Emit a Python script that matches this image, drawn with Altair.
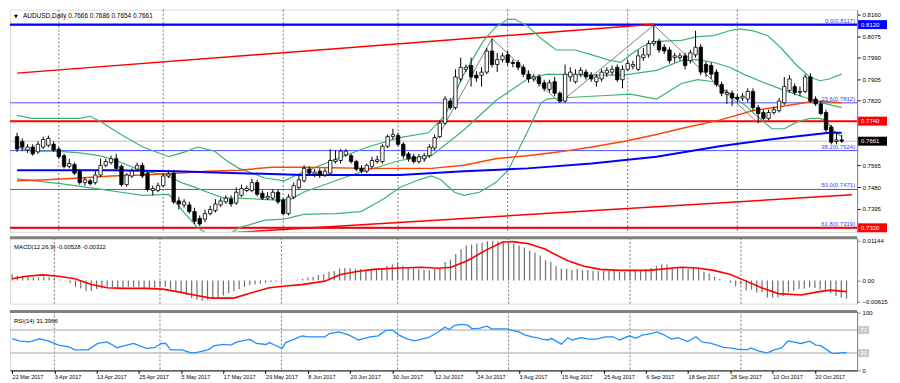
import altair as alt
import pandas as pd

# ---------------- data ----------------
opens = [0.7679,0.7660,0.7626,0.7638,0.7619,0.7638,0.7645,0.7649,0.7630,0.7604,
 0.7562,0.7569,0.7543,0.7498,0.7505,0.7498,0.7528,0.7566,0.7577,0.7592,
 0.7562,0.7490,0.7524,0.7551,0.7566,0.7535,0.7467,0.7467,0.7486,0.7524,
 0.7535,0.7426,0.7410,0.7410,0.7384,0.7357,0.7354,0.7376,0.7388,0.7410,
 0.7422,0.7433,0.7418,0.7448,0.7467,0.7467,0.7498,0.7456,0.7437,0.7437,
 0.7460,0.7429,0.7376,0.7441,0.7479,0.7505,0.7551,0.7532,0.7543,0.7528,
 0.7535,0.7581,0.7585,0.7607,0.7604,0.7581,0.7554,0.7543,0.7562,0.7581,
 0.7581,0.7641,0.7679,0.7683,0.7649,0.7611,0.7600,0.7581,0.7592,0.7604,
 0.7634,0.7679,0.7732,0.7819,0.7793,0.7906,0.7944,0.7959,0.7921,0.7921,
 0.7933,0.8016,0.7963,0.7982,0.8001,0.7971,0.7971,0.7952,0.7925,0.7906,
 0.7914,0.7891,0.7865,0.7895,0.7850,0.7819,0.7914,0.7895,0.7925,0.7933,
 0.7921,0.7895,0.7906,0.7929,0.7933,0.7952,0.7903,0.7944,0.7956,0.7944,
 0.7990,0.8001,0.8046,0.8054,0.8031,0.8020,0.7990,0.7990,0.7997,0.7978,
 0.8001,0.8031,0.7963,0.7959,0.7933,0.7884,0.7846,0.7850,0.7834,0.7831,
 0.7827,0.7857,0.7793,0.7774,0.7751,0.7774,0.7781,0.7812,0.7861,0.7876,
 0.7853,0.7857,0.7914,0.7827,0.7808,0.7774,0.7717,0.7660,0.7666]
highs = [0.7694,0.7672,0.7649,0.7649,0.7660,0.7679,0.7683,0.7660,0.7638,0.7611,
 0.7592,0.7577,0.7551,0.7520,0.7513,0.7543,0.7592,0.7592,0.7604,0.7611,
 0.7569,0.7535,0.7554,0.7577,0.7577,0.7543,0.7486,0.7498,0.7535,0.7547,
 0.7547,0.7441,0.7433,0.7422,0.7399,0.7369,0.7392,0.7407,0.7433,0.7437,
 0.7448,0.7448,0.7479,0.7490,0.7486,0.7513,0.7509,0.7467,0.7460,0.7471,
 0.7471,0.7437,0.7452,0.7498,0.7528,0.7566,0.7562,0.7551,0.7554,0.7554,
 0.7630,0.7626,0.7630,0.7630,0.7611,0.7588,0.7566,0.7573,0.7600,0.7604,
 0.7649,0.7687,0.7710,0.7694,0.7657,0.7619,0.7611,0.7611,0.7615,0.7649,
 0.7687,0.7744,0.7838,0.7831,0.7944,0.7990,0.7963,0.7990,0.7937,0.7952,
 0.8028,0.8065,0.8009,0.8009,0.8016,0.7982,0.7982,0.7963,0.7940,0.7925,
 0.7925,0.7903,0.7903,0.7914,0.7857,0.7963,0.7952,0.7944,0.7952,0.7944,
 0.7933,0.7925,0.7944,0.7952,0.7959,0.7963,0.7959,0.7982,0.7978,0.8020,
 0.8028,0.8058,0.8118,0.8065,0.8043,0.8031,0.8009,0.8009,0.8009,0.8020,
 0.8096,0.8043,0.7975,0.7971,0.7944,0.7895,0.7865,0.7861,0.7846,0.7850,
 0.7869,0.7869,0.7804,0.7785,0.7785,0.7797,0.7831,0.7914,0.7921,0.7888,
 0.7876,0.7925,0.7929,0.7838,0.7819,0.7785,0.7725,0.7694,0.7686]
lows = [0.7619,0.7622,0.7615,0.7604,0.7611,0.7630,0.7638,0.7619,0.7592,0.7554,
 0.7554,0.7528,0.7490,0.7486,0.7486,0.7490,0.7520,0.7558,0.7569,0.7547,
 0.7482,0.7482,0.7516,0.7543,0.7516,0.7463,0.7448,0.7460,0.7479,0.7516,
 0.7414,0.7392,0.7399,0.7376,0.7335,0.7327,0.7342,0.7369,0.7380,0.7403,
 0.7414,0.7403,0.7410,0.7441,0.7460,0.7460,0.7444,0.7429,0.7429,0.7429,
 0.7414,0.7369,0.7369,0.7433,0.7471,0.7498,0.7524,0.7520,0.7516,0.7520,
 0.7528,0.7573,0.7573,0.7600,0.7573,0.7543,0.7535,0.7535,0.7554,0.7573,
 0.7573,0.7634,0.7668,0.7641,0.7592,0.7581,0.7573,0.7573,0.7581,0.7596,
 0.7626,0.7672,0.7725,0.7785,0.7785,0.7895,0.7933,0.7876,0.7895,0.7876,
 0.7925,0.7952,0.7933,0.7971,0.7959,0.7952,0.7940,0.7914,0.7891,0.7895,
 0.7876,0.7857,0.7853,0.7838,0.7812,0.7812,0.7895,0.7888,0.7914,0.7903,
 0.7895,0.7876,0.7895,0.7914,0.7921,0.7895,0.7869,0.7937,0.7944,0.7937,
 0.7978,0.7990,0.8035,0.8009,0.8005,0.7967,0.7971,0.7978,0.7944,0.7967,
 0.7990,0.7921,0.7914,0.7906,0.7876,0.7838,0.7808,0.7800,0.7812,0.7819,
 0.7815,0.7781,0.7732,0.7744,0.7744,0.7766,0.7774,0.7804,0.7853,0.7842,
 0.7838,0.7850,0.7812,0.7800,0.7763,0.7698,0.7649,0.7649,0.7654]
closes = [0.7630,0.7638,0.7638,0.7611,0.7649,0.7668,0.7672,0.7626,0.7600,0.7562,
 0.7573,0.7535,0.7498,0.7509,0.7494,0.7528,0.7566,0.7581,0.7592,0.7554,
 0.7490,0.7528,0.7543,0.7566,0.7524,0.7471,0.7475,0.7486,0.7524,0.7532,
 0.7422,0.7414,0.7422,0.7384,0.7346,0.7335,0.7376,0.7392,0.7414,0.7426,
 0.7437,0.7414,0.7460,0.7475,0.7475,0.7498,0.7452,0.7437,0.7444,0.7460,
 0.7422,0.7376,0.7441,0.7486,0.7509,0.7554,0.7535,0.7539,0.7528,0.7543,
 0.7585,0.7588,0.7622,0.7622,0.7581,0.7551,0.7543,0.7566,0.7585,0.7588,
 0.7641,0.7679,0.7687,0.7649,0.7604,0.7592,0.7581,0.7600,0.7604,0.7638,
 0.7675,0.7732,0.7827,0.7793,0.7914,0.7952,0.7952,0.7914,0.7910,0.7933,
 0.8016,0.7963,0.7982,0.7997,0.7971,0.7967,0.7952,0.7925,0.7906,0.7914,
 0.7888,0.7869,0.7891,0.7850,0.7819,0.7925,0.7933,0.7925,0.7940,0.7914,
 0.7906,0.7914,0.7933,0.7940,0.7944,0.7903,0.7944,0.7967,0.7963,0.7997,
 0.8001,0.8046,0.8054,0.8020,0.8016,0.7978,0.7997,0.7997,0.7959,0.8009,
 0.8031,0.7933,0.7933,0.7925,0.7884,0.7850,0.7853,0.7831,0.7827,0.7838,
 0.7857,0.7793,0.7770,0.7751,0.7774,0.7785,0.7819,0.7876,0.7906,0.7853,
 0.7857,0.7914,0.7819,0.7808,0.7770,0.7706,0.7657,0.7666,0.7661]

date_labels = ['22 Mar 2017','3 Apr 2017','13 Apr 2017','25 Apr 2017','5 May 2017',
 '17 May 2017','29 May 2017','8 Jun 2017','20 Jun 2017','30 Jun 2017','12 Jul 2017',
 '24 Jul 2017','3 Aug 2017','15 Aug 2017','25 Aug 2017','6 Sep 2017','18 Sep 2017',
 '28 Sep 2017','10 Oct 2017','20 Oct 2017']
label_step = 8
month_grid = [8, 28, 51, 73, 94, 117, 138]

bb_up_i = [0,2.8,8.3,12,14,16.2,19.9,24.1,29.1,32.2,34.6,37.8,40.1,42.5,47.5,51.2,54.3,60.4,67.2,73.3,
 78.8,82,85.6,89.3,91.7,94.1,95.4,97.8,100.4,103.3,107,110.1,113.8,115.7,117.5,119.9,122.5,127.3,130.4,
 133.5,136.5,138.3,140.9,143.8,146.4,149.4,151.9,153.8,155.6,158]
bb_up_v = [0.7763,0.7751,0.7751,0.7751,0.7759,0.7736,0.7687,0.7638,0.7600,0.7619,0.7638,0.7622,0.7585,
 0.7554,0.7516,0.7505,0.7535,0.7585,0.7638,0.7675,0.7694,0.7763,0.7925,0.8054,0.8111,0.8141,0.8141,
 0.8115,0.8065,0.8020,0.8020,0.8001,0.7978,0.7971,0.8001,0.8035,0.8054,0.8058,0.8073,0.8077,0.8096,
 0.8103,0.8096,0.8077,0.8028,0.7959,0.7914,0.7899,0.7906,0.7925]
bb_mid_i = [0,2.8,7.6,12,15.7,18,19.9,24.1,28.5,31.5,34.1,36.5,39.6,42.5,46.2,49.9,52.5,54.9,64.1,73.3,
 79.4,85.6,91.7,97.8,101.5,110.1,116.2,122.5,127.3,130.4,133.5,136.5,139.6,142.7,147,151.2,154.3,158]
bb_mid_v = [0.7638,0.7622,0.7622,0.7615,0.7604,0.7592,0.7577,0.7543,0.7528,0.7498,0.7479,0.7460,0.7437,
 0.7437,0.7433,0.7429,0.7433,0.7460,0.7528,0.7585,0.7604,0.7705,0.7820,0.7906,0.7925,0.7921,0.7921,
 0.7940,0.7978,0.7982,0.7971,0.7952,0.7921,0.7895,0.7861,0.7831,0.7812,0.7793]
bb_low_i = [0,8.3,16.2,19.9,24.1,29.1,32.2,34.6,37.4,40.1,42.5,47.5,51.2,54.9,61,65.9,70.2,73.3,77,79.4,
 81.2,83.8,85.6,88.6,91.7,94.1,97.8,100.4,101.5,104,110.1,113.8,117.5,122.5,124.3,127.3,130.4,133.5,
 135.9,139.6,142.7,144.6,147,149.4,151.9,153.8,154.9,156.7,158]
bb_low_v = [0.7513,0.7494,0.7471,0.7460,0.7448,0.7452,0.7376,0.7320,0.7286,0.7289,0.7320,0.7350,0.7354,
 0.7373,0.7376,0.7384,0.7433,0.7479,0.7509,0.7524,0.7509,0.7460,0.7448,0.7460,0.7498,0.7547,0.7698,
 0.7812,0.7827,0.7831,0.7838,0.7842,0.7846,0.7827,0.7850,0.7888,0.7903,0.7895,0.7857,0.7800,0.7744,
 0.7710,0.7710,0.7736,0.7751,0.7751,0.7744,0.7698,0.7679]
ma_red_i = [0,5.7,12,18,24.1,30.4,36.5,42.5,48.8,54.9,67.2,79.4,85.6,91.7,97.8,104,110.1,116.2,122.5,
 128.5,134.6,140.9,147,153,158]
ma_red_v = [0.7505,0.7509,0.7516,0.7524,0.7528,0.7535,0.7543,0.7547,0.7558,0.7558,0.7554,0.7554,0.7566,
 0.7592,0.7604,0.7619,0.7638,0.7660,0.7687,0.7717,0.7744,0.7781,0.7800,0.7819,0.7812]
ma_blue_i = [0,18,30.4,42.5,54.9,73.3,85.6,97.8,110.1,122.5,134.6,147,155.6,158]
ma_blue_v = [0.7547,0.7547,0.7543,0.7535,0.7528,0.7528,0.7543,0.7554,0.7573,0.7600,0.7641,0.7675,
 0.7694,0.7694]
zigzag_i = [78, 91, 104, 122, 142]
zigzag_v = [0.7581, 0.8065, 0.7812, 0.8118, 0.7732]
trend_up_i = [0, 122]
trend_up_v = [0.7929, 0.8121]
trend_low_i = [30, 160]
trend_low_v = [0.7287, 0.7450]

level_prices = [0.8120, 0.7740, 0.7320]
level_colors = ['#0000ff', '#ff0000', '#ff0000']
fib_prices = [0.8117, 0.7812, 0.7624, 0.7471, 0.7319]
fib_texts = ['0.0(0.8117)', '23.6(0.7812)', '38.2(0.7624)', '50.0(0.7471)', '61.8(0.7319)']
bid_price = 0.7661
price_ticks = [0.8160, 0.8075, 0.7990, 0.7905, 0.7820, 0.7565, 0.7480, 0.7395]
box_prices = [0.8120, 0.7740, 0.7661, 0.7320]
box_texts = ['0.8120', '0.7740', '0.7661', '0.7320']
box_colors = ['#0000ff', '#ff0000', '#000000', '#ff0000']

macd_main = [0.00186,0.0014,0.0012,0.0012,0.00093,0.00093,0.0011,0.00093,0.00065,0.00028,
 0.0,-0.00065,-0.00186,-0.00233,-0.00307,-0.00307,-0.00251,-0.00233,-0.00186,-0.00186,
 -0.00233,-0.00214,-0.00186,-0.00186,-0.00186,-0.00233,-0.00251,-0.00214,-0.00186,-0.00186,
 -0.00251,-0.00326,-0.00372,-0.00419,-0.00512,-0.00558,-0.00586,-0.00558,-0.00512,-0.00493,
 -0.00437,-0.00372,-0.00307,-0.00251,-0.00186,-0.0014,-0.00121,-0.00093,-0.00065,-0.00047,
 -0.00028,-0.00028,-0.0001,-0.0001,0.0002,0.00047,0.00084,0.0011,0.0016,0.0018,
 0.0025,0.0027,0.0034,0.0036,0.0036,0.0033,0.0033,0.0030,0.0033,0.0030,
 0.0036,0.0042,0.0046,0.0051,0.0042,0.0039,0.0034,0.0033,0.0030,0.0030,
 0.0034,0.0036,0.0053,0.0060,0.0076,0.0090,0.0101,0.0104,0.0107,0.0109,
 0.0113,0.01144,0.0113,0.0111,0.0111,0.0107,0.0101,0.0095,0.0086,0.0081,
 0.0072,0.0058,0.0053,0.0042,0.0034,0.0034,0.0030,0.0033,0.0030,0.0030,
 0.0027,0.0027,0.0028,0.0027,0.0027,0.0025,0.0025,0.0027,0.0027,0.0027,
 0.0033,0.0036,0.0042,0.0046,0.0046,0.0039,0.0036,0.0036,0.0034,0.0036,
 0.0033,0.0025,0.0020,0.0011,0.0004,-0.0001,-0.0007,-0.0017,-0.0012,-0.0029,
 -0.0026,-0.0035,-0.0035,-0.0049,-0.0049,-0.0049,-0.0045,-0.0035,-0.0029,-0.0025,
 -0.0023,-0.0020,-0.0022,-0.0026,-0.0030,-0.0036,-0.0045,-0.0050,-0.00528]
macd_sig_i = [0,2.7,5.8,8.8,11.9,15,18,21,25.4,28.5,31.5,35.2,37.7,42,45,48.7,51.8,54.9,59.2,62.2,
 65.3,68.4,73.3,77.6,80.7,83.1,86.2,89.9,92.9,94.8,97.8,100.9,102.2,105.2,108.3,111.4,115,120.6,
 126.7,129.8,132.8,135.9,139,142,145.1,149.4,152.5,155,158]
macd_sig_v = [0.00047,0.0012,0.0016,0.0012,0.0005,-0.0012,-0.0021,-0.0023,-0.0023,-0.0025,-0.0033,
 -0.0044,-0.0051,-0.0051,-0.0037,-0.0021,-0.0016,-0.0012,-0.0002,0.0017,0.0026,0.0032,0.0036,
 0.0038,0.0035,0.0038,0.0057,0.0089,0.0111,0.0112,0.0106,0.0091,0.0080,0.0057,0.0041,0.0032,
 0.0029,0.0029,0.0038,0.0036,0.0029,0.0018,-0.0002,-0.0022,-0.0038,-0.0042,-0.0033,-0.0028,
 -0.00322]
macd_ticks = [0.01144, 0.0, -0.00615]

rsi_i = [0,1.5,3.3,5.2,7,8.8,10.7,11.9,14.4,16.2,18,19.9,21.7,23,25.4,27,28.2,29.1,30,32.2,34,35.2,
 37.1,38.3,40.1,41.4,42.6,45,46.3,48.1,48.7,50,51.1,51.8,53,54.9,56.1,59.2,60.1,61.9,63.8,65.6,
 67.8,69.3,70.8,72.1,73.3,74.5,76.1,77.6,78.8,80.7,81.9,82.8,83.7,85,86.2,87.1,88.6,89.9,90.8,
 93.6,94.8,96,97.2,98.5,99.7,100.3,101.5,102.1,104,105.2,106.1,107.7,109.2,110.7,112.3,113.8,
 115,116.9,118.1,119.3,120.9,122.1,123.3,124.9,126.1,127.9,129.5,130.7,132.2,134.7,135.9,137.8,
 139.3,139.9,141.4,142.9,144.5,145.7,146.9,149.4,151,152.2,153.1,154.9,155.5,158]
rsi_v = [55,50.6,49.4,55,50.6,43.9,41,35.6,35.6,46.7,49.4,39.4,43.9,46.7,38.3,39.4,46.7,46.7,35.6,
 35.6,30,31.7,35.6,42.8,45,43.9,49.4,53.9,46.7,45,48.3,42.8,38.3,48.3,52.5,59.7,58.3,58.3,63.9,
 66.7,61.1,52.8,58.3,60,69.4,69.4,61.1,55.6,51.1,54.4,56.7,66.7,75,71.1,77.8,80,78.9,72.2,73.3,
 76.7,72.2,72.2,68.9,66.7,61.1,58.3,56,54.4,52.8,55.6,45.6,56.7,52.8,56.7,54.4,54.4,58.3,58.3,
 52.8,60,55.6,61.1,63.9,66.7,62.2,54.4,56.7,50,58.3,48.9,47.2,40,38.9,36.1,36.1,38.9,33.3,30.6,
 36.1,38.9,51.1,46.7,50.6,43.9,42.8,31.7,29,31.4]
rsi_levels = [70, 30]

for a, b in [(bb_up_i, bb_up_v), (bb_mid_i, bb_mid_v), (bb_low_i, bb_low_v), (ma_red_i, ma_red_v),
             (ma_blue_i, ma_blue_v), (macd_sig_i, macd_sig_v), (rsi_i, rsi_v)]:
    assert len(a) == len(b), (len(a), len(b))
N = len(closes)
assert len(opens) == len(highs) == len(lows) == N == len(macd_main)

# ---------------- layout ----------------
W = 850
H1, H2, H3 = 223, 66, 59
FONT = 'Liberation Sans'
xs = alt.Scale(domain=[-0.4, 160.0], nice=False, zero=False)
ys = alt.Scale(domain=[0.7304, 0.8179], nice=False, zero=False)
ms = alt.Scale(domain=[-0.0067, 0.0123], nice=False, zero=False)
rs = alt.Scale(domain=[0, 102], nice=False, zero=False)

main_axis = alt.Axis(orient='right', values=price_ticks, format='.4f', labelFontSize=6, labelFont=FONT,
                     tickSize=3, title=None, grid=False, domainColor='#808080', tickColor='#000000',
                     labelPadding=2, labelColor='#000000')
X0 = alt.X('i:Q', scale=xs, axis=None)

def Ym(f):
    return alt.Y(f, scale=ys, axis=main_axis)

cd = pd.DataFrame(dict(i=list(range(N)), o=opens, h=highs, l=lows, c=closes))
cd['bull'] = cd['c'] >= cd['o']

def line_df(a, b):
    return pd.DataFrame(dict(i=a, p=b))

grid_df = pd.DataFrame(dict(i=month_grid))
grid = alt.Chart(grid_df).mark_rule(color='#555555', strokeDash=[2, 2], strokeWidth=0.8).encode(x=X0)

levels_df = pd.DataFrame(dict(p=level_prices, col=level_colors))
fib_df = pd.DataFrame(dict(p=fib_prices, t=fib_texts))
bid_df = pd.DataFrame(dict(p=[bid_price]))

bid_line = alt.Chart(bid_df).mark_rule(color='#c0c0c0', strokeWidth=1).encode(y=Ym('p:Q'))
fib_lines = alt.Chart(fib_df).mark_rule(color='#3c3cff', strokeWidth=0.9).encode(y=Ym('p:Q'))
level_lines = alt.Chart(levels_df).mark_rule(strokeWidth=2).encode(
    y=Ym('p:Q'), color=alt.Color('col:N', scale=None))
fib_text = alt.Chart(fib_df).mark_text(align='right', baseline='bottom', dy=-1, fontSize=6, font=FONT,
                                        color='#3c3cff').encode(x=alt.value(W - 2), y=Ym('p:Q'), text='t:N')

def series(a, b, color, width, clip=False):
    return alt.Chart(line_df(a, b)).mark_line(color=color, strokeWidth=width, clip=clip).encode(
        x=X0, y=Ym('p:Q'))

bb_color = '#3cb371'
bb_u = series(bb_up_i, bb_up_v, bb_color, 1.2, True)
bb_m = series(bb_mid_i, bb_mid_v, bb_color, 1.2, True)
bb_l = series(bb_low_i, bb_low_v, bb_color, 1.2, True)
ma_r = series(ma_red_i, ma_red_v, '#ff4500', 1.5)
ma_b = series(ma_blue_i, ma_blue_v, '#0000ff', 2)
zz = series(zigzag_i, zigzag_v, '#808080', 1)
tr_u = series(trend_up_i, trend_up_v, '#ff0000', 1.5, True)
tr_l = series(trend_low_i, trend_low_v, '#ff0000', 1.5, True)

wicks = alt.Chart(cd).mark_rule(color='#000000', strokeWidth=1).encode(x=X0, y=Ym('l:Q'), y2='h:Q')
bodies = alt.Chart(cd).mark_bar(size=3.4, stroke='#000000', strokeWidth=0.8, orient='vertical').encode(
    x=X0, y=Ym('o:Q'), y2='c:Q',
    fill=alt.condition('datum.bull', alt.value('#ffffff'), alt.value('#000000')))

box_df = pd.DataFrame(dict(p=box_prices, t=box_texts, col=box_colors))
boxes = alt.Chart(box_df).mark_rule(strokeWidth=9, strokeCap='butt').encode(
    x=alt.value(W + 1), x2=alt.value(W + 30), y=Ym('p:Q'), color=alt.Color('col:N', scale=None))
box_text = alt.Chart(box_df).mark_text(align='left', baseline='middle', fontSize=6, font=FONT,
                                       color='#ffffff').encode(x=alt.value(W + 4), y=Ym('p:Q'), text='t:N')

hdr_df = pd.DataFrame(dict(t=['AUDUSD,Daily  0.7666 0.7686 0.7654 0.7661']))
hdr_tri = alt.Chart(pd.DataFrame(dict(t=['\u25bc']))).mark_text(
    align='left', baseline='middle', fontSize=5, font='DejaVu Sans').encode(
    x=alt.value(4), y=alt.value(6), text='t:N')
hdr = alt.Chart(hdr_df).mark_text(align='left', baseline='middle', fontSize=6.5, font=FONT).encode(
    x=alt.value(13), y=alt.value(6), text='t:N')

main = alt.layer(grid, bid_line, fib_lines, level_lines, tr_u, tr_l, bb_u, bb_m, bb_l, ma_r, ma_b, zz,
                 wicks, bodies, fib_text, boxes, box_text, hdr_tri, hdr).properties(width=W, height=H1)

# ---------------- MACD ----------------
macd_axis = alt.Axis(orient='right', values=macd_ticks, labelFontSize=6, labelFont=FONT, tickSize=3,
                     title=None, grid=False, domainColor='#808080', labelPadding=2,
                     labelExpr="datum.value == 0 ? '0.00' : format(datum.value, '.5f')")
md = pd.DataFrame(dict(i=list(range(N)), v=macd_main, z=[0.0] * N))
sep_df = pd.DataFrame(dict(k=[0]))
sep = alt.Chart(sep_df).mark_rule(color='#808080', strokeWidth=3).encode(
    x=alt.value(0), x2=alt.value(W), y=alt.value(0))
hist = alt.Chart(md).mark_rule(color='#707070', strokeWidth=1.2).encode(
    x=X0, y=alt.Y('z:Q', scale=ms, axis=macd_axis), y2='v:Q')
sig = alt.Chart(pd.DataFrame(dict(i=macd_sig_i, v=macd_sig_v))).mark_line(
    color='#ff0000', strokeWidth=1.6).encode(x=X0, y=alt.Y('v:Q', scale=ms, axis=macd_axis))
macd_lbl = alt.Chart(pd.DataFrame(dict(t=['MACD(12,26,9) -0.00528 -0.00322']))).mark_text(
    align='left', baseline='middle', fontSize=6, font=FONT).encode(x=alt.value(4), y=alt.value(9), text='t:N')
macd = alt.layer(grid, hist, sig, macd_lbl, sep).properties(width=W, height=H2)

# ---------------- RSI ----------------
label_js = '[' + ','.join("'" + s + "'" for s in date_labels) + ']'
x_axis = alt.Axis(values=[k * label_step for k in range(len(date_labels))],
                  labelExpr=label_js + '[round(datum.value / %d)]' % label_step,
                  labelAlign='left', labelFontSize=5.5, labelFont=FONT, tickSize=3, labelPadding=1,
                  title=None, grid=False, domainColor='#000000', tickColor='#000000',
                  labelOverlap=False, labelFlush=False, labelBound=False)
Xr = alt.X('i:Q', scale=xs, axis=x_axis)
rsi_axis = alt.Axis(orient='right', values=[100, 0], labelFontSize=6, labelFont=FONT, tickSize=3,
                    title=None, grid=False, domainColor='#808080', labelPadding=2)
lv_df = pd.DataFrame(dict(r=rsi_levels, t=[str(v) for v in rsi_levels]))
lv = alt.Chart(lv_df).mark_rule(color='#c0c0c0', strokeWidth=1.5).encode(
    y=alt.Y('r:Q', scale=rs, axis=rsi_axis))
lv_box = alt.Chart(lv_df).mark_rule(color='#c8c8c8', strokeWidth=8, strokeCap='butt').encode(
    x=alt.value(W + 1), x2=alt.value(W + 12), y=alt.Y('r:Q', scale=rs, axis=rsi_axis))
lv_txt = alt.Chart(lv_df).mark_text(align='left', baseline='middle', fontSize=6, font=FONT,
                                    color='#ffffff').encode(
    x=alt.value(W + 3), y=alt.Y('r:Q', scale=rs, axis=rsi_axis), text='t:N')
rsi_line = alt.Chart(pd.DataFrame(dict(i=rsi_i, v=rsi_v))).mark_line(
    color='#1e90ff', strokeWidth=1.3).encode(x=Xr, y=alt.Y('v:Q', scale=rs, axis=rsi_axis))
rsi_lbl = alt.Chart(pd.DataFrame(dict(t=['RSI(14) 31.3966']))).mark_text(
    align='left', baseline='middle', fontSize=6, font=FONT).encode(x=alt.value(4), y=alt.value(9), text='t:N')
grid_r = alt.Chart(grid_df).mark_rule(color='#555555', strokeDash=[2, 2], strokeWidth=0.8).encode(x=Xr)
rsi = alt.layer(grid_r, lv, rsi_line, lv_box, lv_txt, rsi_lbl, sep).properties(width=W, height=H3)

chart = alt.vconcat(main, macd, rsi, spacing=3).properties(
    padding={'left': 0, 'top': 0, 'right': 0, 'bottom': 0}
).configure_view(stroke='#909090', strokeWidth=1).configure(background='#ffffff')

chart.save("out.html", embed_options={"renderer": "svg", "actions": False})
